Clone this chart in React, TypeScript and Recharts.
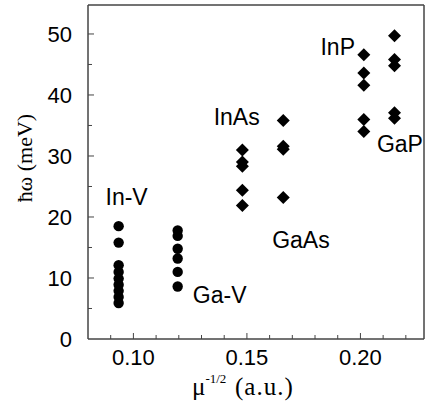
import React from 'react';
import { ScatterChart, Scatter, XAxis, YAxis, ReferenceArea } from 'recharts';

// column positions (mu^-1/2, a.u.)
const xInV = 0.0935;
const xGaV = 0.1195;
const xInAs = 0.148;
const xGaAs = 0.166;
const xInP = 0.2015;
const xGaP = 0.215;

// phonon energies (meV)
const inV = [18.5, 15.8, 12.1, 11.0, 9.9, 8.9, 7.9, 6.9, 5.9];
const gaV = [17.8, 16.9, 14.8, 13.2, 11.0, 8.6];
const inAs = [31.0, 29.0, 28.3, 24.4, 21.9];
const gaAs = [35.8, 31.6, 31.1, 23.2];
const inP = [46.6, 43.6, 41.6, 36.0, 34.0];
const gaP = [49.7, 45.8, 44.8, 37.1, 36.2];

const groupNames = ['In-V', 'Ga-V', 'InAs', 'GaAs', 'InP', 'GaP'];
const groupLabelX = [0.097, 0.138, 0.1455, 0.1738, 0.19, 0.2174];
const groupLabelY = [22.0, 5.9, 35.1, 14.9, 46.6, 30.7];

const xTicks = [0.09, 0.1, 0.11, 0.12, 0.13, 0.14, 0.15, 0.16, 0.17, 0.18, 0.19, 0.2, 0.21, 0.22];
const xMajor = [0.1, 0.15, 0.2];
const xMajorLabels = ['0.10', '0.15', '0.20'];
const yTicks = [5, 10, 15, 20, 25, 30, 35, 40, 45, 50];
const yLabelTicks = [0, 10, 20, 30, 40, 50];

const xDomain = [0.08, 0.228];
const yDomain = [0, 54.75];

const toPoints = (x: number, ys: number[]) => ys.map(y => ({ x, y }));
const circles = [...toPoints(xInV, inV), ...toPoints(xGaV, gaV)];
const diamonds = [
  ...toPoints(xInAs, inAs),
  ...toPoints(xGaAs, gaAs),
  ...toPoints(xInP, inP),
  ...toPoints(xGaP, gaP),
];
const labels = groupNames.map((name, i) => ({ x: groupLabelX[i], y: groupLabelY[i], name }));

const FRAME = '#444';
const SANS = '"Liberation Sans", Arial, sans-serif';
const SERIF = '"Liberation Serif", "Times New Roman", serif';

const isMajorX = (v: number) => xMajor.findIndex(m => Math.abs(m - v) < 1e-6);

const BottomTick = (props: any) => {
  const { x, y, payload } = props;
  const i = isMajorX(payload.value);
  return (
    <g>
      <line x1={x} x2={x} y1={y} y2={y - (i >= 0 ? 6 : 4)} stroke={FRAME} />
      {i >= 0 && (
        <text x={x} y={y + 26} textAnchor="middle" fontSize={22} fontFamily={SANS} fill="#000">
          {xMajorLabels[i]}
        </text>
      )}
    </g>
  );
};

const TopTick = (props: any) => {
  const { x, y, payload } = props;
  const major = isMajorX(payload.value) >= 0;
  return <line x1={x} x2={x} y1={y} y2={y + (major ? 6 : 4)} stroke={FRAME} />;
};

const LeftTick = (props: any) => {
  const { x, y, payload } = props;
  const major = payload.value % 10 === 0;
  return (
    <g>
      {payload.value > 0 && <line x1={x} x2={x + (major ? 6 : 4)} y1={y} y2={y} stroke={FRAME} />}
      {yLabelTicks.includes(payload.value) && (
        <text x={x - 16} y={y + 8} textAnchor="end" fontSize={22} fontFamily={SANS} fill="#000">
          {payload.value}
        </text>
      )}
    </g>
  );
};

const RightTick = (props: any) => {
  const { x, y, payload } = props;
  const major = payload.value % 10 === 0;
  return <line x1={x} x2={x - (major ? 6 : 4)} y1={y} y2={y} stroke={FRAME} />;
};

const Diamond = (props: any) => {
  const { cx, cy } = props;
  const h = 6.5;
  return <polygon points={`${cx},${cy - h} ${cx + h},${cy} ${cx},${cy + h} ${cx - h},${cy}`} fill="#000" />;
};

const Dot = (props: any) => <circle cx={props.cx} cy={props.cy} r={5.2} fill="#000" />;

const GroupLabel = (props: any) => (
  <text x={props.cx} y={props.cy} textAnchor="middle" fontSize={23} fontFamily={SANS} fill="#000">
    {props.payload.name}
  </text>
);

export default function App() {
  return (
    <div style={{ position: 'absolute', left: 0, top: 0, background: '#fff' }}>
      <ScatterChart width={430} height={406} margin={{ top: 4, right: 5, bottom: 0, left: 0 }}>
        <XAxis
          xAxisId="b"
          type="number"
          dataKey="x"
          domain={xDomain}
          ticks={xTicks}
          interval={0}
          height={67}
          tickSize={0}
          tickMargin={0}
          tickLine={false}
          axisLine={{ stroke: FRAME }}
          tick={BottomTick}
        />
        <XAxis
          xAxisId="t"
          orientation="top"
          type="number"
          dataKey="x"
          domain={xDomain}
          ticks={xTicks}
          interval={0}
          height={1}
          tickSize={0}
          tickMargin={0}
          tickLine={false}
          axisLine={{ stroke: FRAME }}
          tick={TopTick}
        />
        <YAxis
          yAxisId="l"
          type="number"
          dataKey="y"
          domain={yDomain}
          ticks={[0, ...yTicks]}
          interval={0}
          width={88}
          tickSize={0}
          tickMargin={0}
          tickLine={false}
          axisLine={{ stroke: FRAME }}
          tick={LeftTick}
        />
        <YAxis
          yAxisId="r"
          orientation="right"
          type="number"
          dataKey="y"
          domain={yDomain}
          ticks={yTicks}
          interval={0}
          width={1}
          tickSize={0}
          tickMargin={0}
          tickLine={false}
          axisLine={{ stroke: FRAME }}
          tick={RightTick}
        />
        <ReferenceArea
          xAxisId="b"
          yAxisId="l"
          x1={xDomain[0]}
          x2={xDomain[1]}
          y1={yDomain[0]}
          y2={yDomain[1]}
          fill="none"
          stroke={FRAME}
          strokeWidth={1}
        />
        <Scatter xAxisId="b" yAxisId="l" data={circles} shape={Dot} isAnimationActive={false} />
        <Scatter xAxisId="b" yAxisId="l" data={diamonds} shape={Diamond} isAnimationActive={false} />
        <Scatter xAxisId="b" yAxisId="l" data={labels} shape={GroupLabel} isAnimationActive={false} />
        <text x={24} y={158} transform="rotate(-90 24 158)" textAnchor="middle" dominantBaseline="central" fontSize={22} fontFamily={SERIF} fill="#000">
          ħω (meV)
        </text>
        <text x={192} y={395} fontSize={25} fontFamily={SERIF} fill="#000">
          μ
          <tspan fontSize={13} dy={-12}>-1/2</tspan>
          <tspan x={235} dy={12} letterSpacing={1}>(a.u.)</tspan>
        </text>
      </ScatterChart>
    </div>
  );
}
